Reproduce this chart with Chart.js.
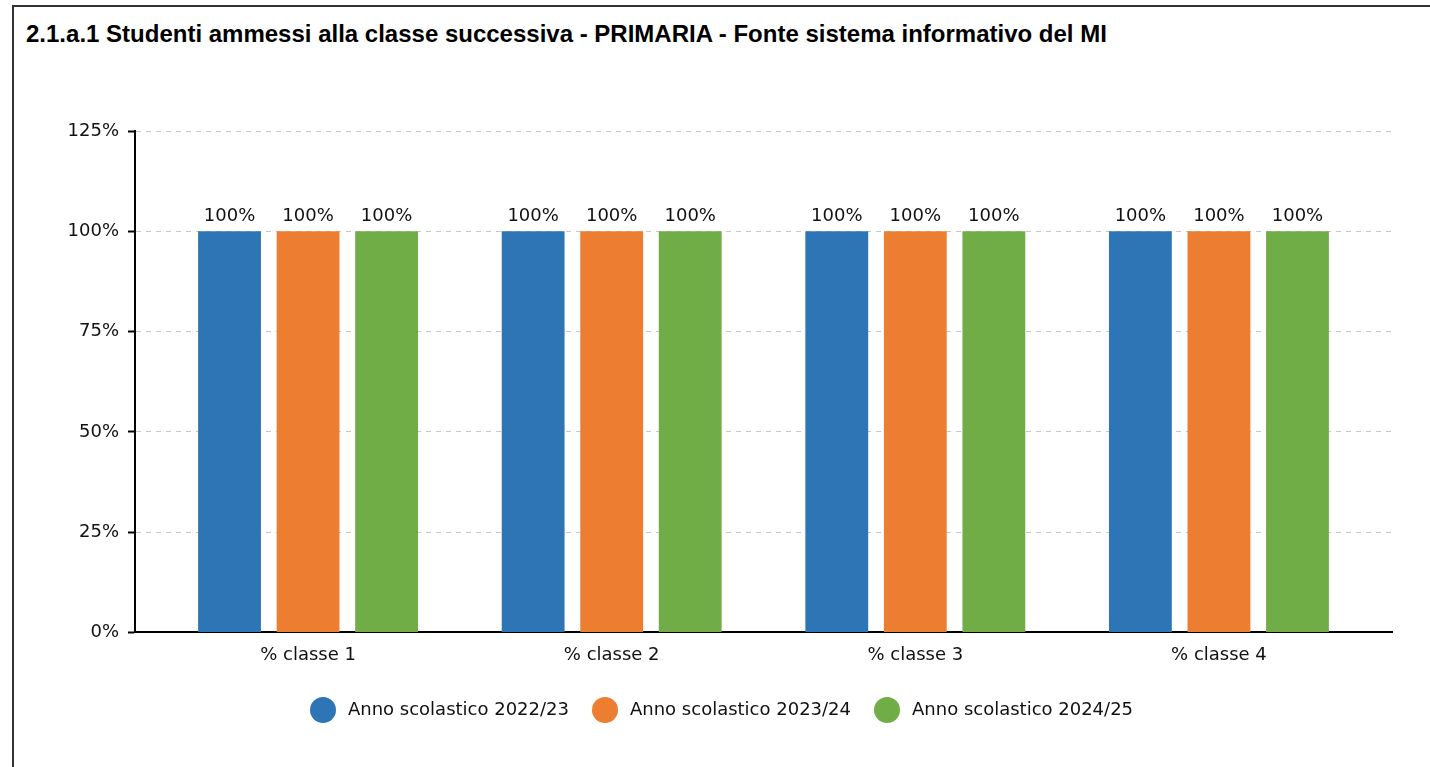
<!DOCTYPE html>
<html>
<head>
<meta charset="utf-8">
<script src="https://cdn.jsdelivr.net/npm/chart.js@4/dist/chart.umd.min.js"></script>
<style>
  html, body { margin: 0; padding: 0; background: #fff; }
  body { width: 1430px; height: 767px; position: relative; overflow: hidden; }
  .box { position: absolute; left: 12px; top: 5px; width: 1430px; height: 800px;
         border-left: 2px solid #333; border-top: 2px solid #333; }
  .title { position: absolute; left: 26px; top: 22px; font: bold 24px "Liberation Sans", Arial, sans-serif;
           line-height: 24px; color: #000; white-space: nowrap; }
  #wrap { position: absolute; left: 14px; top: 60px; width: 1416px; height: 707px; }
</style>
</head>
<body>
<div class="box"></div>
<div class="title">2.1.a.1 Studenti ammessi alla classe successiva - PRIMARIA - Fonte sistema informativo del MI</div>
<div id="wrap"><canvas id="chart"></canvas></div>
<script>
const categories = ['% classe 1', '% classe 2', '% classe 3', '% classe 4'];
const years = ['Anno scolastico 2022/23', 'Anno scolastico 2023/24', 'Anno scolastico 2024/25'];
const anno2223 = [100, 100, 100, 100];
const anno2324 = [100, 100, 100, 100];
const anno2425 = [100, 100, 100, 100];
const yTicks = [0, 25, 50, 75, 100, 125];
const colors = ['#2e75b6', '#ed7d31', '#70ad47'];

const FONT = { family: '"DejaVu Sans", sans-serif', size: 18 };

// legend dots: circle sits left of the usual box so the gap to the text matches
function makeDot(color) {
    const c = document.createElement('canvas');
    c.width = 40; c.height = 28;
    const g = c.getContext('2d');
    g.fillStyle = color;
    g.beginPath();
    g.arc(13, 14, 13, 0, Math.PI * 2);
    g.fill();
    return c;
}
const dots = colors.map(makeDot);

const barLabels = {
    id: 'barLabels',
    afterDatasetsDraw(chart) {
        const ctx = chart.ctx;
        ctx.save();
        ctx.font = '18px "DejaVu Sans", sans-serif';
        ctx.fillStyle = '#111';
        ctx.textAlign = 'center';
        ctx.textBaseline = 'alphabetic';
        chart.data.datasets.forEach((ds, di) => {
            chart.getDatasetMeta(di).data.forEach((el, i) => {
                ctx.fillText(ds.data[i].y + '%', el.x, el.y - 10);
            });
        });
        ctx.restore();
    }
};

const series = [anno2223, anno2324, anno2425];

new Chart(document.getElementById('chart'), {
    type: 'bar',
    data: {
        datasets: series.map((vals, s) => ({
            label: years[s],
            data: vals.map((v, i) => ({ x: i, y: v })),
            backgroundColor: colors[s],
            categoryPercentage: 0.776,
            barPercentage: 0.8
        }))
    },
    options: {
        responsive: true,
        maintainAspectRatio: false,
        animation: false,
        layout: { padding: { left: 48, right: 38, top: 71, bottom: 38 } },
        plugins: {
            tooltip: { enabled: false },
            legend: {
                position: 'bottom',
                labels: {
                    usePointStyle: true,
                    padding: 34,
                    color: '#111',
                    font: FONT,
                    generateLabels(chart) {
                        const items = Chart.defaults.plugins.legend.labels.generateLabels(chart);
                        items.forEach((it, i) => { it.pointStyle = dots[i]; });
                        return items;
                    }
                }
            }
        },
        scales: {
            x: {
                type: 'linear',
                offset: false,
                min: -0.57,
                max: 3.57,
                afterBuildTicks(scale) {
                    scale.ticks = categories.map((c, i) => ({ value: i }));
                },
                afterFit(scale) { scale.height -= 11; },
                ticks: {
                    padding: 12,
                    color: '#111',
                    font: FONT,
                    callback: v => categories[v]
                },
                grid: { drawOnChartArea: false, drawTicks: false },
                border: { color: '#000', width: 2 }
            },
            y: {
                min: 0,
                max: 125,
                afterBuildTicks(scale) {
                    scale.ticks = yTicks.map(v => ({ value: v }));
                },
                afterFit(scale) { scale.width = 73; },
                ticks: {
                    padding: 9,
                    color: '#111',
                    font: FONT,
                    callback: v => v + '%'
                },
                grid: {
                    color: '#c8c8c8',
                    lineWidth: 1,
                    tickColor: '#000',
                    tickWidth: 2,
                    tickLength: 7,
                    tickBorderDash: []
                },
                border: { color: '#000', width: 2, dash: [5, 5] }
            }
        }
    },
    plugins: [barLabels]
});
</script>
</body>
</html>
